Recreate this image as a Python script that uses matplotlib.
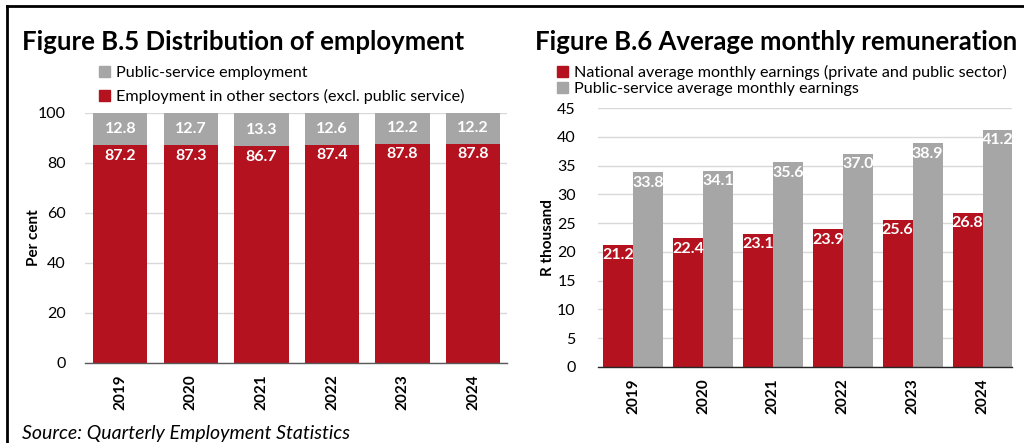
import matplotlib
matplotlib.use('Agg')
from matplotlib import pyplot as plt
from matplotlib.lines import Line2D
from matplotlib.patches import Patch
from matplotlib.ticker import MultipleLocator
import numpy as np

years = ['2019', '2020', '2021', '2022', '2023', '2024']

# Figure B.5: share of employment, per cent
other_sectors = [87.2, 87.3, 86.7, 87.4, 87.8, 87.8]
public_service = [12.8, 12.7, 13.3, 12.6, 12.2, 12.2]

# Figure B.6: average monthly earnings, R thousand
national_earnings = [21.2, 22.4, 23.1, 23.9, 25.6, 26.8]
public_earnings = [33.8, 34.1, 35.6, 37.0, 38.9, 41.2]

RED = '#B3121E'
GREY = '#A6A6A6'
GRID = '#D9D9D9'

plt.rcParams['font.family'] = ['Lato', 'DejaVu Sans']

W, H = 1024, 443
fig = plt.figure(figsize=(W / 100, H / 100), dpi=100)


def fx(px):
    return px / W


def fy(py):
    return 1 - py / H


def style_axes(ax):
    for side in ('top', 'right', 'left'):
        ax.spines[side].set_visible(False)
    ax.spines['bottom'].set_color('#595959')
    ax.spines['bottom'].set_linewidth(1.0)
    ax.yaxis.grid(True, color=GRID, lw=1.0)
    ax.set_axisbelow(True)
    ax.tick_params(axis='y', length=0, labelsize=11.5, pad=14)
    ax.tick_params(axis='x', length=0, labelsize=11, pad=8)
    ax.set_xticks(range(len(years)))
    ax.set_xticklabels(years, rotation=90, fontweight='bold')


# ---- left panel: stacked bars ----
ax1 = fig.add_axes([fx(85), fy(363), fx(507) - fx(85), fy(113) - fy(363)])
x = np.arange(len(years))
ax1.bar(x, other_sectors, width=0.77, color=RED, zorder=2)
ax1.bar(x, public_service, width=0.77, bottom=other_sectors,
        color=GREY, zorder=2)
ax1.set_ylim(0, 100)
ax1.set_xlim(-0.5, 5.48)
ax1.yaxis.set_major_locator(MultipleLocator(20))
style_axes(ax1)
ax1.set_ylabel('Per cent', fontsize=11, fontweight='bold')
ax1.yaxis.set_label_coords(-0.104, 0.5)
for xi, r, g in zip(x, other_sectors, public_service):
    ax1.text(xi, r - 1.5, f'{r:.1f}', ha='center', va='top', color='white',
             fontsize=11.5, fontweight='bold', zorder=3)
    ax1.text(xi, r + g / 2, f'{g:.1f}', ha='center', va='center',
             color='white', fontsize=11.5, fontweight='bold', zorder=3)

fig.legend(handles=[Patch(color=GREY, label='Public-service employment'),
                    Patch(color=RED, label='Employment in other sectors (excl. public service)')],
           loc='upper left', bbox_to_anchor=(fx(99), fy(66)), frameon=False,
           fontsize=11.6, handlelength=0.7, handleheight=0.7,
           handletextpad=0.35, labelspacing=0.55, borderaxespad=0,
           borderpad=0)

# ---- right panel: grouped bars ----
ax2 = fig.add_axes([fx(598), fy(367), fx(1012) - fx(598), fy(108) - fy(367)])
bw = 0.43
ax2.bar(x - bw / 2, national_earnings, width=bw, color=RED, zorder=2)
ax2.bar(x + bw / 2, public_earnings, width=bw, color=GREY, zorder=2)
ax2.set_ylim(0, 45)
ax2.set_xlim(-0.5, 5.42)
ax2.yaxis.set_major_locator(MultipleLocator(5))
style_axes(ax2)
ax2.spines['bottom'].set_color('#262626')
ax2.tick_params(axis='y', pad=16)
ax2.set_ylabel('R thousand', fontsize=11, fontweight='bold')
ax2.yaxis.set_label_coords(-0.104, 0.5)
for xi, n, p in zip(x, national_earnings, public_earnings):
    ax2.text(xi - bw / 2, n - 0.6, f'{n:.1f}', ha='center', va='top',
             color='white', fontsize=11.5, fontweight='bold', zorder=3)
    ax2.text(xi + bw / 2, p - 0.6, f'{p:.1f}', ha='center', va='top',
             color='white', fontsize=11.5, fontweight='bold', zorder=3)

fig.legend(handles=[Patch(color=RED, label='National average monthly earnings (private and public sector)'),
                    Patch(color=GREY, label='Public-service average monthly earnings')],
           loc='upper left', bbox_to_anchor=(fx(557), fy(65)), frameon=False,
           fontsize=11.6, handlelength=0.7, handleheight=0.7,
           handletextpad=0.35, labelspacing=0.1, borderaxespad=0,
           borderpad=0)

# ---- titles, source, frame ----
fig.text(fx(22), fy(42), 'Figure B.5 Distribution of employment',
         fontsize=18.5, fontweight='bold', va='center', ha='left')
fig.text(fx(535), fy(42), 'Figure B.6 Average monthly remuneration',
         fontsize=18.5, fontweight='bold', va='center', ha='left')
fig.text(fx(22), fy(433), 'Source: Quarterly Employment Statistics',
         fontsize=14, style='italic', va='center', ha='left')

fig.add_artist(Line2D([fx(7), 1], [fy(6), fy(6)], color='black', lw=2))
fig.add_artist(Line2D([fx(7), fx(7)], [fy(6), 0], color='black', lw=2))

fig.savefig('out.png', dpi=100)
